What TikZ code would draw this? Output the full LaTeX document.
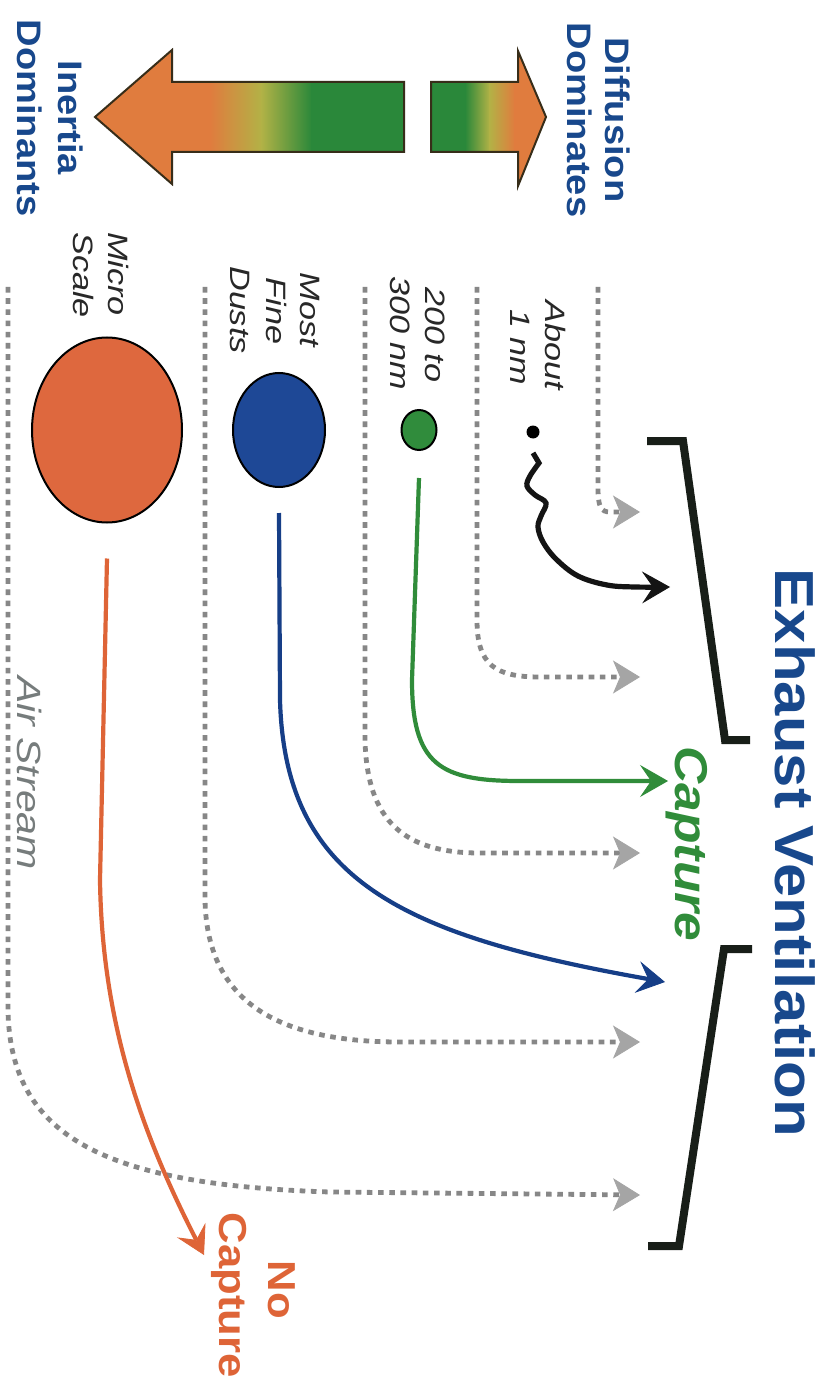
\documentclass[tikz,border=0pt]{standalone}
\usepackage{fontspec}
\setmainfont{Liberation Sans}
\newfontfamily\wideA[FakeStretch=1.22]{Liberation Sans}
\newfontfamily\wideB[FakeStretch=1.12]{Liberation Sans}
\usetikzlibrary{arrows.meta,shapes.geometric}
\definecolor{tblue}{RGB}{24,72,140}
\definecolor{tgreen}{RGB}{48,140,58}
\definecolor{torange}{RGB}{222,100,55}
\definecolor{pblue}{RGB}{30,72,150}
\definecolor{ablue}{RGB}{22,62,135}
\definecolor{pgreen}{RGB}{48,140,60}
\definecolor{porange}{RGB}{222,104,62}
\definecolor{dotgray}{RGB}{135,135,135}
\definecolor{tipgray}{RGB}{165,165,165}
\definecolor{airgray}{RGB}{118,124,124}
\definecolor{lblgray}{RGB}{40,40,40}
\definecolor{bark}{RGB}{24,30,24}
\definecolor{gOr}{RGB}{224,124,62}
\definecolor{gYe}{RGB}{178,178,70}
\definecolor{gGr}{RGB}{42,136,58}
\definecolor{outl}{RGB}{55,45,25}
\begin{document}
\begin{tikzpicture}[x=0.5pt,y=-0.5pt,
  air/.style={line width=2.4pt, dotgray, dash pattern=on 2.8pt off 2.8pt,
    -{Stealth[length=13.5pt,width=16.5pt,inset=3.5pt,line width=0.4pt,color=tipgray]}},
  flow/.style={line width=2.1pt, -{Stealth[length=14pt,width=16pt,inset=5.5pt,line width=0.4pt]}},
  small/.style={rotate=-90, anchor=base, inner sep=0pt, text=lblgray,
    font=\wideA\itshape\fontsize{14}{17}\selectfont},
  head/.style={rotate=-90, anchor=base, inner sep=0pt, text=tblue,
    font=\wideB\bfseries\fontsize{17}{20}\selectfont},
  bracket/.style={line width=4pt, draw=bark, line join=miter},
  particle/.style={ellipse, draw=black, line width=1pt, inner sep=0pt},
  bigarrow/.style={draw=outl, line width=1pt, line join=miter}]
\useasboundingbox (0,0) rectangle (825,1385);
\fill[white] (0,0) rectangle (825,1385);

% ---- gradient double arrow ----
\begin{scope}
  \clip (95,117) -- (172,50) -- (172,82) -- (404,82) -- (404,152) -- (172,152) -- (172,184) -- cycle;
  \fill[gOr] (90,40) rectangle (211,200);
  \shade[left color=gOr, right color=gYe] (210,40) rectangle (262,200);
  \shade[left color=gYe, right color=gGr] (261,40) rectangle (312,200);
  \fill[gGr] (311,40) rectangle (410,200);
\end{scope}
\draw[bigarrow] (95,117) -- (172,50) -- (172,82) -- (404,82) -- (404,152) -- (172,152) -- (172,184) -- cycle;
\begin{scope}
  \clip (431,82) -- (518,82) -- (518,51) -- (546,117) -- (518,186) -- (518,152) -- (431,152) -- cycle;
  \fill[gGr] (425,40) rectangle (466,200);
  \shade[left color=gGr, right color=gYe] (465,40) rectangle (490,200);
  \shade[left color=gYe, right color=gOr] (489,40) rectangle (515,200);
  \fill[gOr] (514,40) rectangle (555,200);
\end{scope}
\draw[bigarrow] (431,82) -- (518,82) -- (518,51) -- (546,117) -- (518,186) -- (518,152) -- (431,152) -- cycle;

% ---- headings ----
\node[head] (tDiff) at (605,120) {Diffusion};
\node[head] (tDomR) at (567,120) {Dominates};
\node[head] (tIner) at (58,118) {Inertia};
\node[head] (tDomL) at (18,118) {Dominants};
\node[head, font=\wideB\bfseries\fontsize{27.5}{30}\selectfont] (tTitle) at (775,853) {Exhaust Ventilation};
\node[head, text=tgreen, font=\wideB\bfseries\itshape\fontsize{23}{26}\selectfont] (tCap) at (675,844) {Capture};
\node[head, text=torange, font=\wideB\bfseries\fontsize{19.5}{22}\selectfont] (tNo) at (268,1290) {No};
\node[head, text=torange, font=\wideB\bfseries\fontsize{19.5}{22}\selectfont] (tNoCap) at (219,1295) {Capture};

% ---- size labels ----
\node[small] (lAbout) at (545,345) {About};
\node[small] (l1nm) at (510,347) {1 nm};
\node[small] (l200) at (425,335) {200 to};
\node[small] (l300) at (390,333) {300 nm};
\node[small] (lMost) at (300,310) {Most};
\node[small] (lFine) at (266,311) {Fine};
\node[small] (lDusts) at (230,310) {Dusts};
\node[small] (lMicro) at (108,274) {Micro};
\node[small] (lScale) at (73,275) {Scale};
\node[small, text=airgray, font=\wideA\itshape\fontsize{16.8}{19}\selectfont] (lAir) at (18,773) {Air Stream};

% ---- particles ----
\node[particle, fill=porange, minimum width=75pt, minimum height=92.5pt] (pOrange) at (107,430) {};
\node[particle, fill=pblue, minimum width=46pt, minimum height=57pt] (pBlue) at (279,430) {};
\node[particle, fill=pgreen, minimum width=17.5pt, minimum height=20pt] (pGreen) at (419,430) {};
\node[circle, fill=black, minimum size=6.5pt, inner sep=0pt] (dot) at (533,432) {};

% ---- brackets ----
\draw[bracket] (647,441) -- (683,441) -- (725,740) -- (750,740);
\draw[bracket] (752,949) -- (724,949) -- (679,1246) -- (648,1246);

% ---- air stream lines ----
\coordinate (s1) at (598,287); \coordinate (e1) at (640,512);
\coordinate (s2) at (477,287); \coordinate (e2) at (640,677);
\coordinate (s3) at (365,287); \coordinate (e3) at (640,853);
\coordinate (s4) at (205,287); \coordinate (e4) at (640,1042);
\coordinate (s5) at (8,287);   \coordinate (e5) at (640,1195);
\draw[air] (s1) -- (598,488) .. controls (598,507) and (601,512) .. (610,512) -- (e1);
\draw[air] (s2) -- (477,620) .. controls (477,665) and (495,677) .. (540,677) -- (e2);
\draw[air] (s3) -- (365,740) .. controls (367,822) and (405,853) .. (480,853) -- (e3);
\draw[air] (s4) -- (205,900) .. controls (207,1000) and (275,1042) .. (400,1042) -- (e4);
\draw[air] (s5) -- (8,1010) .. controls (10,1140) and (110,1185) .. (330,1192) -- (e5);

% ---- particle paths ----
\coordinate (cBlack) at (670,587);
\coordinate (cGreen) at (668,781);
\coordinate (cBlue) at (665,982);
\coordinate (cOrange) at (204,1255);
\draw[flow, black!92, line width=2.6pt] ([yshift=-7pt]dot.south) -- plot[smooth, tension=0.6] coordinates {(539,463) (530,476) (527,486) (535,495) (546,503) (541,516) (538,527) (543,542) (556,559) (578,576) (607,585) (635,587) (cBlack)};
\draw[flow, tgreen] ([yshift=-13.5pt]pGreen.south) -- (412,680) .. controls (412,765) and (440,781) .. (520,781) -- (cGreen);
\draw[flow, ablue] ([yshift=-12.5pt]pBlue.south) -- (280,700) .. controls (285,880) and (400,935) .. (cBlue);
\draw[flow, torange] ([yshift=-17.5pt]pOrange.south) -- (100,880) .. controls (102,1020) and (140,1130) .. (cOrange);
\end{tikzpicture}
\end{document}
